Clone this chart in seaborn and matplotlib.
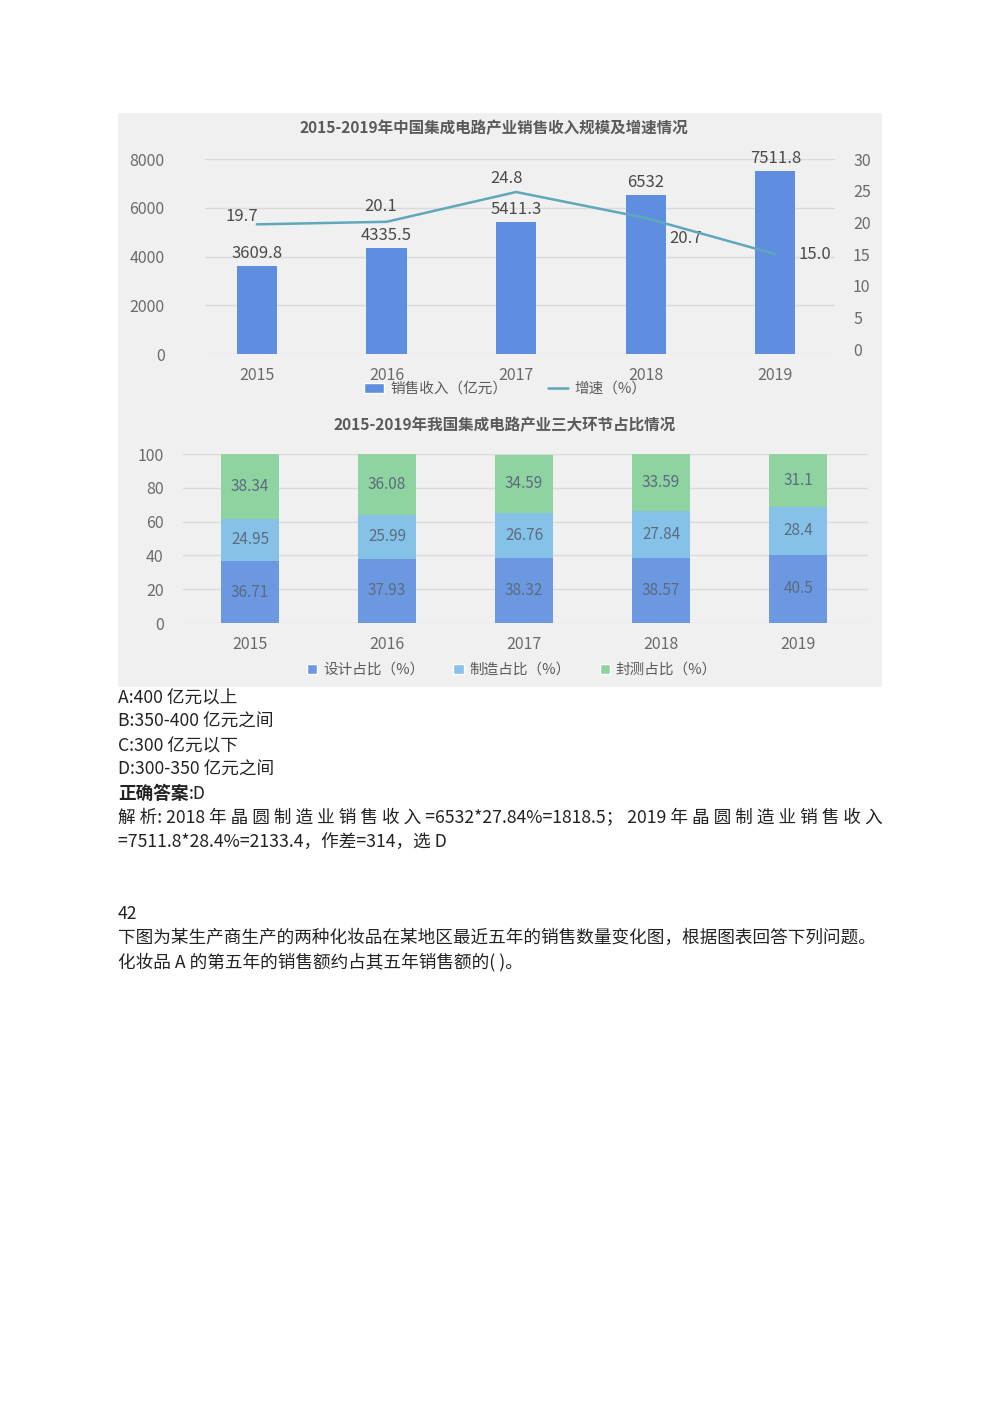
import numpy as np
import pandas as pd
import matplotlib
matplotlib.use("Agg")
import matplotlib.pyplot as plt
import seaborn as sns
from matplotlib.patches import Patch
from matplotlib.lines import Line2D

years = ["2015", "2016", "2017", "2018", "2019"]
sales = [3609.8, 4335.5, 5411.3, 6532, 7511.8]
growth = [19.7, 20.1, 24.8, 20.7, 15.0]
growth_labels = ["19.7", "20.1", "24.8", "20.7", "15.0"]
sales_labels = ["3609.8", "4335.5", "5411.3", "6532", "7511.8"]

design = [36.71, 37.93, 38.32, 38.57, 40.5]
manuf = [24.95, 25.99, 26.76, 27.84, 28.4]
packtest = [38.34, 36.08, 34.59, 33.59, 31.1]
design_labels = ["36.71", "37.93", "38.32", "38.57", "40.5"]
manuf_labels = ["24.95", "25.99", "26.76", "27.84", "28.4"]
pack_labels = ["38.34", "36.08", "34.59", "33.59", "31.1"]

sns.set_theme(style="white")
plt.rcParams['font.family'] = ['Noto Sans CJK SC', 'DejaVu Sans']

fig = plt.figure(figsize=(10, 14.15), dpi=100)
fig.patch.set_facecolor("white")

# photo background (own axes, behind the charts)
bg = fig.add_axes([0.118, 0.5145, 0.764, 0.4057], zorder=-5)
bg.set_facecolor("#f0f0f0")
bg.set_xticks([])
bg.set_yticks([])
for s in bg.spines.values():
    s.set_visible(False)

grid_c = "#dadada"
tick_c = "#6a6a6a"
val_c = "#4a4a4a"

# ---- top chart
ax = fig.add_axes([0.205, 0.7498, 0.63, 0.1378])
ax.set_facecolor("none")
df_top = pd.DataFrame({"year": years, "sales": sales})
sns.barplot(data=df_top, x="year", y="sales", ax=ax, color="#5f8ee0", width=0.31,
            saturation=1, linewidth=0, zorder=3)
ax.set_xlim(-0.4, 4.46)
ax.set_ylim(0, 8000)
ax.set_yticks([0, 2000, 4000, 6000, 8000])
ax.grid(axis="y", color=grid_c, lw=1, zorder=0)
for s in ax.spines.values():
    s.set_visible(False)
ax.tick_params(axis="y", labelsize=11.5, colors=tick_c, length=0, pad=29)
ax.tick_params(axis="x", labelsize=11.5, colors=tick_c, length=0, pad=9)
ax.set_xlabel("")
ax.set_ylabel("")
for i, v in enumerate(sales):
    ax.annotate(sales_labels[i], (i, v), textcoords="offset pixels", xytext=(0, 4),
                ha="center", va="bottom", fontsize=12, color=val_c)

ax2 = ax.twinx()
sns.lineplot(x=np.arange(len(years)), y=growth, ax=ax2, color="#5fa8ba", lw=1.8, zorder=4)
ax2.set_ylim(-0.76, 29.1)
ax2.set_yticks([0, 5, 10, 15, 20, 25, 30])
for s in ax2.spines.values():
    s.set_visible(False)
ax2.tick_params(axis="y", labelsize=11.5, colors=tick_c, length=0, pad=13)
offsets = [(-15, 8), (-6, 15), (-10, 14), (40, -21), (40, 0)]
for i, v in enumerate(growth):
    ax2.annotate(growth_labels[i], (i, v), textcoords="offset pixels", xytext=offsets[i],
                 ha="center", va="center", fontsize=12, color=val_c)

fig.text(0.494, 1 - 128 / 1415, "2015-2019年中国集成电路产业销售收入规模及增速情况",
         ha="center", va="center", fontsize=11.2, color="#5a5a5a", fontweight="bold")
top_handles = [Patch(facecolor="#5f8ee0"), Line2D([0], [0], color="#5fa8ba", lw=1.8)]
fig.legend(top_handles, ["销售收入（亿元）", "增速（%）"], loc="center",
           bbox_to_anchor=(0.505, 1 - 389 / 1415), ncol=2, frameon=False, fontsize=10.5,
           labelcolor="#5a5a5a", handlelength=1.4, columnspacing=2.8, handletextpad=0.4)

# ---- bottom chart
bx = fig.add_axes([0.183, 0.5597, 0.685, 0.1194])
bx.set_facecolor("none")
df_bot = pd.DataFrame({"year": years, "design": design, "manuf": manuf, "pack": packtest})
df_bot["lvl2"] = df_bot["design"] + df_bot["manuf"]
df_bot["lvl3"] = df_bot["lvl2"] + df_bot["pack"]
c_design, c_manuf, c_pack = "#6b98e0", "#86c2e8", "#8fd3a0"
sns.barplot(data=df_bot, x="year", y="lvl3", ax=bx, color=c_pack, width=0.42, saturation=1,
            linewidth=0, zorder=3)
sns.barplot(data=df_bot, x="year", y="lvl2", ax=bx, color=c_manuf, width=0.42, saturation=1,
            linewidth=0, zorder=3)
sns.barplot(data=df_bot, x="year", y="design", ax=bx, color=c_design, width=0.42, saturation=1,
            linewidth=0, zorder=3)
bx.set_xlim(-0.49, 4.51)
bx.set_ylim(0, 100)
bx.set_yticks([0, 20, 40, 60, 80, 100])
bx.grid(axis="y", color=grid_c, lw=1, zorder=0)
for s in bx.spines.values():
    s.set_visible(False)
bx.tick_params(axis="y", labelsize=11.5, colors=tick_c, length=0, pad=14)
bx.tick_params(axis="x", labelsize=11.5, colors=tick_c, length=0, pad=9)
bx.set_xlabel("")
bx.set_ylabel("")
lab_c = "#5b6b80"
for i in range(len(years)):
    bx.text(i, design[i] / 2, design_labels[i], ha="center", va="center", fontsize=11, color=lab_c, zorder=5)
    bx.text(i, design[i] + manuf[i] / 2, manuf_labels[i], ha="center", va="center", fontsize=11, color=lab_c, zorder=5)
    bx.text(i, design[i] + manuf[i] + packtest[i] / 2, pack_labels[i], ha="center", va="center",
            fontsize=11, color=lab_c, zorder=5)

fig.text(0.505, 1 - 425 / 1415, "2015-2019年我国集成电路产业三大环节占比情况",
         ha="center", va="center", fontsize=11.2, color="#5a5a5a", fontweight="bold")
bot_handles = [Patch(facecolor=c_design), Patch(facecolor=c_manuf), Patch(facecolor=c_pack)]
fig.legend(bot_handles, ["设计占比（%）", "制造占比（%）", "封测占比（%）"], loc="center",
           bbox_to_anchor=(0.512, 1 - 670 / 1415), ncol=3, frameon=False, fontsize=10.5,
           labelcolor="#5a5a5a", handlelength=0.7, handleheight=0.7, columnspacing=2.0,
           handletextpad=0.4)

# ---- document text
txt_c = "#222222"
fs = 12.7
def line(y_px, s, x_px=118, **kw):
    fig.text(x_px / 1000, 1 - y_px / 1415, s, ha="left", va="center", fontsize=fs, color=txt_c, **kw)

line(698, "A:400 亿元以上")
line(722, "B:350-400 亿元之间")
line(746, "C:300 亿元以下")
line(770, "D:300-350 亿元之间")
line(794, "正确答案", fontweight="bold")
line(794, ":D", x_px=189)
line(818, "解 析: 2018 年 晶 圆 制 造 业 销 售 收 入 =6532*27.84%=1818.5； 2019 年 晶 圆 制 造 业 销 售 收 入")
line(842, "=7511.8*28.4%=2133.4，作差=314，选 D")
line(914, "42")
line(938, "下图为某生产商生产的两种化妆品在某地区最近五年的销售数量变化图，根据图表回答下列问题。")
line(962, "化妆品 A 的第五年的销售额约占其五年销售额的( )。")

fig.savefig("out.png", dpi=100, facecolor="white")
